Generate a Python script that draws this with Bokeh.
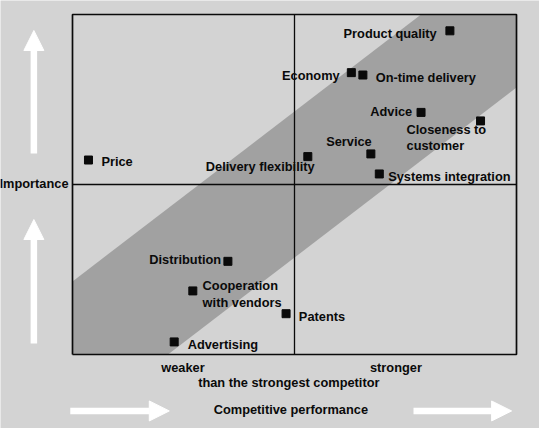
from bokeh.core.properties import value
from bokeh.embed import file_html
from bokeh.models import Arrow, ColumnDataSource, NormalHead, Range1d
from bokeh.plotting import figure
from bokeh.resources import INLINE

# purchase criteria: competitive performance (x) vs importance (y), 0..10 scale
factors = [
    "Price", "Product quality", "Economy", "On-time delivery", "Advice",
    "Closeness to\ncustomer", "Service", "Delivery flexibility",
    "Systems integration", "Distribution", "Cooperation\nwith vendors",
    "Advertising", "Patents",
]
performance = [0.36, 8.50, 6.28, 6.54, 7.85, 9.19, 6.72, 5.30, 6.91, 3.50, 2.71, 2.29, 4.81]
importance = [5.72, 9.52, 8.29, 8.22, 7.12, 6.87, 5.90, 5.82, 5.31, 2.74, 1.87, 0.37, 1.20]

# diagonal band: importance - performance within these limits
band_low = -2.15
band_high = 2.15
midpoint = 5

# label placement relative to each marker (pixels, +dy = down)
label_dx = [12.9, -13.2, -11.7, 12.8, -8.8, -74, 0.8, 6.8, 8.9, -6.8, 9.8, 13.5, 12.8]
label_dy = [1.5, 3.0, 2.7, 2.5, -1.0, 1.0, -12.5, 10.0, 2.2, -1.5, -12.5, 2.2, 2.5]
label_align = ["left", "right", "right", "left", "right", "left", "right", "right",
               "left", "right", "left", "left", "left"]
label_base = ["middle", "middle", "middle", "middle", "middle", "top", "middle", "middle",
              "middle", "middle", "top", "middle", "middle"]

BG = "#d3d3d3"
BAND = "#a1a1a1"
INK = "#0a0a0a"
FONT = value("Liberation Sans")
SIZE = "12.8px"

p = figure(
    width=539,
    height=428,
    x_range=Range1d(-72 / 44.4, 10 + 23 / 44.4),
    y_range=Range1d(-74 / 34, 10 + 14 / 34),
    x_axis_type=None,
    y_axis_type=None,
    toolbar_location=None,
    output_backend="svg",
    min_border=0,
)
p.min_border_left = 0
p.min_border_right = 0
p.min_border_top = 0
p.min_border_bottom = 0
p.outline_line_color = None
p.background_fill_color = BG
p.border_fill_color = BG
p.grid.visible = False

# band clipped to the 0..10 box
band_x = [0, -band_low, 10, 10, 10 - band_high, 0]
band_y = [0, 0, 10 + band_low, 10, 10, band_high]
p.patch(band_x, band_y, fill_color=BAND, line_color=None)

# box and quadrant lines
p.line([0, 10, 10, 0, 0], [0, 0, 10, 10, 0], line_color=INK, line_width=1.7)
p.segment(x0=[midpoint, 0], y0=[0, midpoint], x1=[midpoint, 10], y1=[10, midpoint],
          line_color=INK, line_width=1.3)

p.scatter(performance, importance, marker="square", size=8, fill_color=INK, line_color=INK)

for align in ("left", "right"):
    for base in ("middle", "top"):
        idx = [i for i in range(len(factors)) if label_align[i] == align and label_base[i] == base]
        if not idx:
            continue
        src = ColumnDataSource(dict(
            x=[performance[i] for i in idx],
            y=[importance[i] for i in idx],
            text=[factors[i] for i in idx],
            dx=[label_dx[i] for i in idx],
            dy=[label_dy[i] for i in idx],
        ))
        p.text("x", "y", text="text", x_offset="dx", y_offset="dy", source=src,
               text_align=align, text_baseline=base, text_font=FONT,
               text_font_style="bold", text_font_size=SIZE, text_color=INK,
               text_line_height=1.1)

# axis captions
captions = ["Importance", "weaker", "stronger", "than the strongest competitor",
            "Competitive performance"]
cap_x = [-0.09, 2.0, 6.7, 2.83, 3.18]
cap_y = [5.03, -0.38, -0.38, -0.83, -1.62]
cap_align = ["right", "left", "left", "left", "left"]
for t, x, y, a in zip(captions, cap_x, cap_y, cap_align):
    p.text([x], [y], text=[t], text_align=a, text_baseline="middle", text_font=FONT,
           text_font_style="bold", text_font_size=SIZE, text_color=INK)

# white direction arrows
arrows = [
    (-0.87, 5.91, -0.87, 9.53),
    (-0.87, 0.32, -0.87, 3.97),
    (-0.05, -1.66, 2.18, -1.66),
    (7.68, -1.66, 9.89, -1.66),
]
for x0, y0, x1, y1 in arrows:
    p.add_layout(Arrow(
        x_start=x0, y_start=y0, x_end=x1, y_end=y1,
        line_color="white", line_width=6.5, line_cap="butt",
        end=NormalHead(size=20, fill_color="white", line_color="white", line_width=1),
    ))

open("out.html", "w").write(file_html(p, INLINE))
